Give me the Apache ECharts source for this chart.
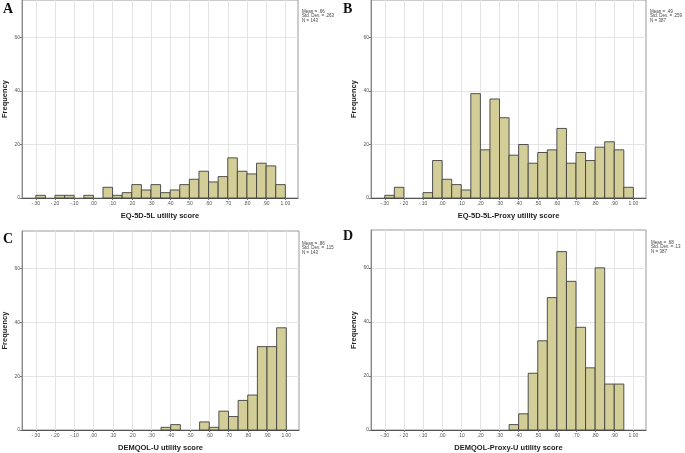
<!DOCTYPE html>
<html><head><meta charset="utf-8">
<script src="https://cdn.jsdelivr.net/npm/echarts@6/dist/echarts.min.js"></script>
<style>html,body{margin:0;padding:0;background:#fff}#c{width:685px;height:453px}</style>
</head><body><div id="c"></div>
<script>
const binStarts = [-0.30,-0.25,-0.20,-0.15,-0.10,-0.05,0.00,0.05,0.10,0.15,0.20,0.25,0.30,0.35,0.40,0.45,0.50,0.55,0.60,0.65,0.70,0.75,0.80,0.85,0.90,0.95];
const binWidth = 0.05;
const countsA = [1,0,1,1,0,1,0,4,1,2,5,3,5,2,3,5,7,10,6,8,15,10,9,13,12,5];
const countsB = [1,4,0,0,2,14,7,5,3,39,18,37,30,16,20,13,17,18,26,13,17,14,19,21,18,4];
const countsC = [0,0,0,0,0,0,0,0,0,0,0,0,0,1,2,0,0,3,1,7,5,11,13,31,31,38];
const countsD = [0,0,0,0,0,0,0,0,0,0,0,0,0,2,6,21,33,49,66,55,38,23,60,17,17,0];
const xTicks = [-0.3,-0.2,-0.1,0,0.1,0.2,0.3,0.4,0.5,0.6,0.7,0.8,0.9,1.0];
const xTickLabels = ['-.30','-.20','-.10','.00','.10','.20','.30','.40','.50','.60','.70','.80','.90','1.00'];
const yTicks = [0,20,40,60];
const xTitles = ['EQ-5D-5L utility score','EQ-5D-5L-Proxy utility score','DEMQOL-U utility score','DEMQOL-Proxy-U utility score'];
const yTitle = 'Frequency';
const panelLetters = ['A','B','C','D'];
const statsA = ['Mean = .66','Std. Dev. = .263','N = 143'];
const statsB = ['Mean = .49','Std. Dev. = .259','N = 387'];
const statsC = ['Mean = .86','Std. Dev. = .115','N = 143'];
const statsD = ['Mean = .68','Std. Dev. = .13','N = 387'];

const counts = [countsA, countsB, countsC, countsD];
const stats = [statsA, statsB, statsC, statsD];
const grids = [
  {left:19, top:0, width:279, height:198},
  {left:371, top:0, width:275, height:198},
  {left:19, top:231, width:280, height:200},
  {left:371, top:230, width:275, height:202}
];
const letterPos = [[3,2],[343,2],[3,232],[343,229]];
const statsPos = [[302,9],[650,9],[302,241],[651,240]];

function fmtX(v){
  const i = xTicks.findIndex(t => Math.abs(t - v) < 1e-6);
  return i >= 0 ? xTickLabels[i] : '';
}
function renderItem(params, api){
  const x0 = api.value(0), c = api.value(1);
  if (!c) return null;
  const p0 = api.coord([x0, 0]);
  const p1 = api.coord([x0 + binWidth, c]);
  return {type:'rect', shape:{x:p0[0], y:p1[1], width:p1[0]-p0[0], height:p0[1]-p1[1]},
    style:{fill:'#d3ce97', stroke:'#404040', lineWidth:0.9}};
}
const font = 'Liberation Sans, Arial, sans-serif';
const option = {
  animation:false,
  grid: grids.map(g => Object.assign({show:true, borderColor:'#9a9a9a', borderWidth:1, backgroundColor:'transparent'}, g)),
  xAxis: grids.map((g,i) => ({
    type:'value', gridIndex:i, min:-0.372, max:1.066,
    name:xTitles[i], nameLocation:'middle', nameGap:14,
    nameTextStyle:{fontFamily:font, fontWeight:'bold', fontSize:7.5, color:'#222'},
    axisLine:{show:true, onZero:false, lineStyle:{color:'#555', width:1}},
    axisTick:{show:true, length:2, customValues:xTicks, lineStyle:{color:'#777'}},
    axisLabel:{customValues:xTicks, formatter:fmtX, fontFamily:font, fontSize:5, color:'#555', margin:3},
    splitLine:{show:true, lineStyle:{color:'#e4e4e4', width:1}}
  })),
  yAxis: grids.map((g,i) => ({
    type:'value', gridIndex:i, min:0, max:74,
    name:yTitle, nameLocation:'middle', nameGap:13, nameRotate:90,
    nameTextStyle:{fontFamily:font, fontWeight:'bold', fontSize:7.5, color:'#222'},
    axisLine:{show:true, onZero:false, lineStyle:{color:'#888', width:1}},
    axisTick:{show:true, length:2, customValues:yTicks, lineStyle:{color:'#777'}},
    axisLabel:{customValues:yTicks, fontFamily:font, fontSize:5, color:'#555', margin:2},
    splitLine:{show:true, lineStyle:{color:'#e4e4e4', width:1}}
  })),
  series: counts.map((cs,i) => ({
    type:'custom', xAxisIndex:i, yAxisIndex:i, renderItem:renderItem,
    encode:{x:0, y:1},
    data: binStarts.map((b,j) => [b, cs[j]])
  })),
  graphic: [].concat(
    panelLetters.map((L,i) => ({type:'text', left:letterPos[i][0], top:letterPos[i][1],
      style:{text:L, font:'bold 14px "Liberation Serif", "Times New Roman", serif', fill:'#111'}})),
    stats.map((s,i) => ({type:'text', left:statsPos[i][0], top:statsPos[i][1],
      style:{text:s.join('\n'), font:'4.5px "Liberation Sans", Arial, sans-serif', lineHeight:4.5, fill:'#444'}}))
  )
};
const chart = echarts.init(document.getElementById('c'), null, {renderer:'canvas'});
chart.setOption(option);
</script>
</body></html>
